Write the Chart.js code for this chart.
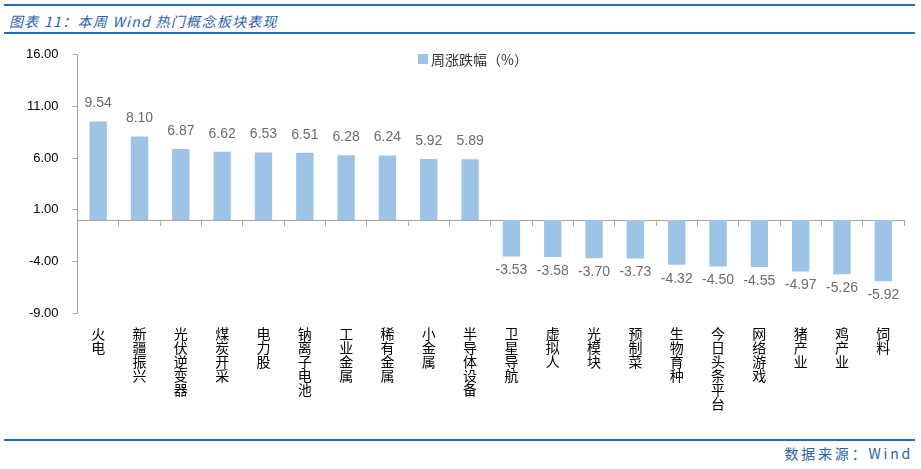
<!DOCTYPE html>
<html>
<head>
<meta charset="utf-8">
<script src="https://cdn.jsdelivr.net/npm/chart.js@4.4.0/dist/chart.umd.min.js"></script>
<style>
  body { margin: 0; width: 921px; height: 469px; background: #fff; position: relative; overflow: hidden; }
  .rule { position: absolute; left: 4px; right: 6px; height: 0; border-top: 2px solid #1f6cc0; }
  .title { position: absolute; left: 9px; top: 11px; font: italic 14px "Noto Sans CJK SC", sans-serif; color: #2a62ad; letter-spacing: 1.3px; }
  .source { position: absolute; right: 8px; top: 443px; font: 14px "Noto Sans CJK SC", sans-serif; color: #2a62ad; letter-spacing: 2.8px; }
  #wrap { position: absolute; left: 0; top: 33px; width: 921px; height: 392px; }
  .legend { position: absolute; left: 418px; top: 49px; font: 14px "Noto Sans CJK SC", sans-serif; color: #333; display: flex; align-items: center; }
  .legend i { display: inline-block; width: 10px; height: 10px; background: #9dc3e6; margin-right: 3px; }
</style>
</head>
<body>
<div class="rule" style="top:4px"></div>
<div class="title">图表 11：本周 Wind 热门概念板块表现</div>
<div class="rule" style="top:32px"></div>
<div id="wrap"><canvas id="chart"></canvas></div>
<div class="legend"><i></i>周涨跌幅（%）</div>
<div class="rule" style="top:439px"></div>
<div class="source">数据来源：Wind</div>

<script>
var categories = ['火电', '新疆振兴', '光伏逆变器', '煤炭开采', '电力股', '钠离子电池', '工业金属', '稀有金属', '小金属', '半导体设备',
    '卫星导航', '虚拟人', '光模块', '预制菜', '生物育种', '今日头条平台', '网络游戏', '猪产业', '鸡产业', '饲料'];
var weeklyChange = [9.54, 8.10, 6.87, 6.62, 6.53, 6.51, 6.28, 6.24, 5.92, 5.89,
    -3.53, -3.58, -3.70, -3.73, -4.32, -4.50, -4.55, -4.97, -5.26, -5.92];
var yTicks = [16, 11, 6, 1, -4, -9];

var axisGray = '#a6a6a6';

// 柱子上的数值标签
var valueLabels = {
    id: 'valueLabels',
    afterDatasetsDraw: function (chart) {
        var ctx = chart.ctx;
        var meta = chart.getDatasetMeta(0);
        ctx.save();
        ctx.font = '14px "Liberation Sans", sans-serif';
        ctx.fillStyle = '#6b6b6b';
        ctx.textAlign = 'center';
        ctx.textBaseline = 'middle';
        meta.data.forEach(function (bar, i) {
            var v = weeklyChange[i];
            var y = v >= 0 ? bar.y - 18 : bar.y + 14;
            ctx.fillText(v.toFixed(2), bar.x, y);
        });
        ctx.restore();
    }
};

var ctx = document.getElementById('chart').getContext('2d');
new Chart(ctx, {
    type: 'bar',
    data: {
        labels: categories.map(function (c) { return Array.from(c); }),
        datasets: [{
            label: '周涨跌幅（%）',
            data: weeklyChange,
            backgroundColor: '#9dc3e6',
            categoryPercentage: 1,
            barPercentage: 0.42,
            xAxisID: 'x'
        }]
    },
    options: {
        responsive: true,
        maintainAspectRatio: false,
        animation: false,
        layout: { padding: { left: 12, right: 17, top: 12, bottom: 0 } },
        plugins: {
            legend: { display: false },
            tooltip: { enabled: false }
        },
        scales: {
            x: {
                type: 'category',
                position: 'bottom',
                border: { display: false },
                grid: { display: false, drawTicks: false },
                ticks: {
                    autoSkip: false,
                    maxRotation: 0,
                    padding: 14,
                    color: '#000',
                    font: { family: '"Noto Sans CJK SC", sans-serif', size: 14, lineHeight: 1 }
                }
            },
            x0: {
                type: 'category',
                position: { y: 0 },
                offset: true,
                ticks: { display: false },
                grid: { offset: true, drawOnChartArea: false, drawTicks: true, tickLength: 5, color: axisGray },
                border: { color: axisGray }
            },
            y: {
                min: -9,
                max: 16,
                afterBuildTicks: function (axis) {
                    axis.ticks = yTicks.map(function (v) { return { value: v }; });
                },
                border: { color: axisGray },
                grid: { drawOnChartArea: false, tickLength: 5, color: axisGray },
                ticks: {
                    padding: 14,
                    color: '#000',
                    font: { family: '"Liberation Sans", sans-serif', size: 13 },
                    callback: function (v) { return Number(v).toFixed(2); }
                }
            }
        }
    },
    plugins: [valueLabels]
});
</script>
</body>
</html>
